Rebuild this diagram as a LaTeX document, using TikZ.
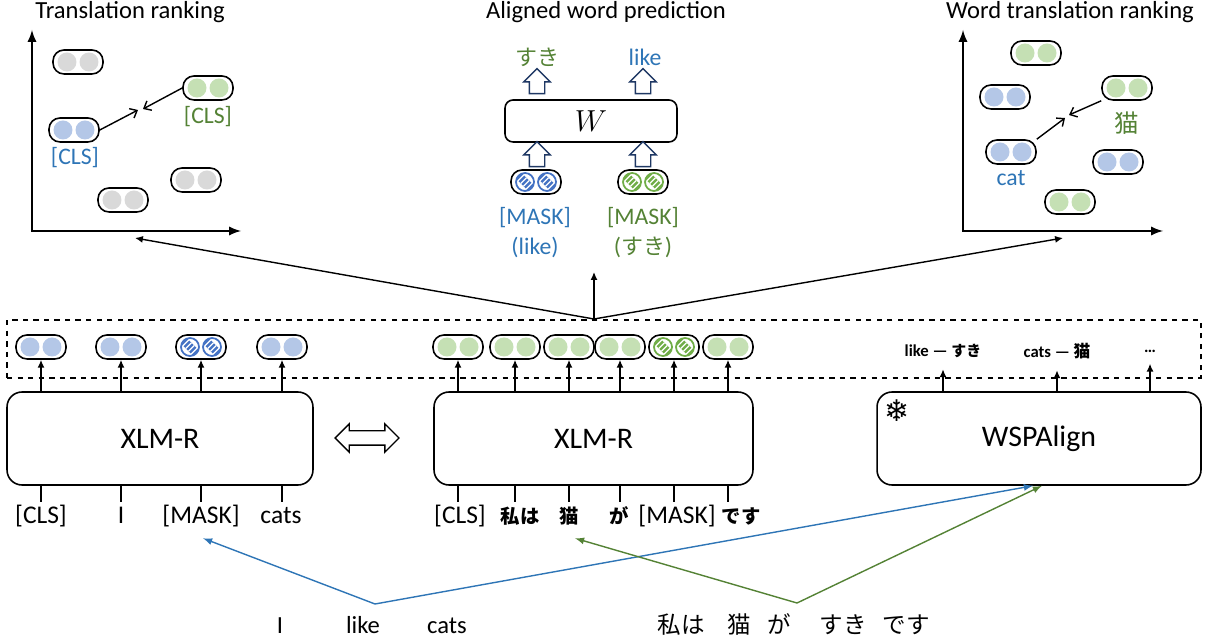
\documentclass[tikz,border=0pt]{standalone}
\usepackage{fontspec}
\setmainfont{Carlito}
\newfontfamily\jpfont{Noto Sans CJK JP}
\newfontfamily\symfont{DejaVu Sans}
\usetikzlibrary{arrows, arrows.meta, shapes.arrows, calc}

\definecolor{pillBlue}{HTML}{B4C7E7}
\definecolor{pillGreen}{HTML}{C5E0B4}
\definecolor{pillGray}{HTML}{D9D9D9}
\definecolor{hatchBlue}{HTML}{4472C4}
\definecolor{hatchGreen}{HTML}{70AD47}
\definecolor{txtBlue}{HTML}{2E75B6}
\definecolor{txtGreen}{HTML}{548235}
\definecolor{arrowNavy}{HTML}{1F3864}

\tikzset{
  pill/.style={draw, line width=0.9pt, rounded corners=0.22cm, minimum width=1.0cm, minimum height=0.48cm, inner sep=0pt},
  model/.style={draw, line width=0.9pt, rounded corners=0.3cm, inner sep=0pt, font=\fontsize{17}{20}\selectfont},
  hollowup/.style={single arrow, draw=arrowNavy, line width=0.8pt, rotate=90, minimum height=0.5cm, minimum width=0.5cm, single arrow head extend=0.11cm, inner xsep=0pt, inner ysep=0.14cm},
  token/.style={font=\fontsize{14.5}{17}\selectfont, text height=10pt, text depth=3pt, inner sep=2pt},
  jptoken/.style={token, font=\jpfont\bfseries\fontsize{11}{13}\selectfont},
  title/.style={font=\fontsize{14}{17}\selectfont},
  plabel/.style={font=\fontsize{13.5}{17}\selectfont},
  pairtxt/.style={font=\bfseries\fontsize{9.5}{11}\selectfont},
  wire/.style={line width=0.8pt, -{Latex[length=4.5pt, width=4pt]}},
  pointer/.style={line width=0.8pt, -{Straight Barb[length=3.5pt, width=6pt]}},
}

%% output embedding: a pill with two dots
\newcommand{\embpill}[3]{%
  \node[pill] (#1) at (#2) {};
  \fill[#3] ($(#1)+(-11,0)$) circle (0.19cm);
  \fill[#3] ($(#1)+(11,0)$) circle (0.19cm);
}

%% masked embedding: striped dots
\newcommand{\maskpill}[3]{%
  \node[pill] (#1) at (#2) {};
  \foreach \dx in {-11,11}{
    \begin{scope}
      \clip ($(#1)+(\dx,0)$) circle (0.18cm);
      \draw[#3, line width=4.5pt] ($(#1)+(\dx-10,-10)$) -- ($(#1)+(\dx+10,10)$);
      \draw[white, line width=4.5pt, dash pattern=on 0.7pt off 1.5pt] ($(#1)+(\dx-10,-10)$) -- ($(#1)+(\dx+10,10)$);
    \end{scope}
    \draw[#3, line width=1pt] ($(#1)+(\dx,0)$) circle (0.18cm);
  }
}

\begin{document}
\begin{tikzpicture}[x=0.02cm, y=-0.02cm]

%%Parameters
\def\embY{347}
\def\tokY{517}
\def\sentY{627}

\useasboundingbox (0,0) rectangle (1210,644);

    %% ***Translation ranking***
    \node[title] (tTrans) at (130,12) {Translation ranking};
    \draw[line width=1.3pt, latex-latex] (32,30) |- (241,231);

    \embpill{trG1}{78,62}{pillGray}
    \embpill{trCn}{208,88}{pillGreen}
    \embpill{trCe}{74,130}{pillBlue}
    \embpill{trG2}{196,180}{pillGray}
    \embpill{trG3}{123,200}{pillGray}
    \node[plabel, text=txtGreen] (trCnL) at (208,117) {[CLS]};
    \node[plabel, text=txtBlue] (trCeL) at (75,158) {[CLS]};

    \coordinate (trMeetA) at (138,110);
    \coordinate (trMeetB) at (143,109);
    \draw[pointer] (trCe.east) -- (trMeetA);
    \draw[pointer] (trCn.west) -- (trMeetB);


    %% ***Aligned word prediction***
    \node[title] (tAlign) at (606,12) {Aligned word prediction};
    \node[draw, line width=0.9pt, rounded corners=0.16cm, minimum width=3.44cm, minimum height=0.84cm, font=\fontsize{16}{18}\selectfont] (wMat) at (591,121) {$W$};

    \node[hollowup] (upA1) at (537,85) {};
    \node[hollowup] (upB1) at (643,85) {};
    \node[hollowup] (upA2) at (537,158) {};
    \node[hollowup] (upB2) at (643,158) {};

    \node[plabel, text=txtGreen, font=\jpfont\fontsize{12.5}{15}\selectfont] (predJa) at (537,57) {すき};
    \node[plabel, text=txtBlue] (predEn) at (645,57) {like};

    \maskpill{mkEn}{536,182}{hatchBlue}
    \maskpill{mkJa}{643,182}{hatchGreen}
    \node[plabel, text=txtBlue, align=center] (mkEnL) at (535,233) {[MASK]\\(like)};
    \node[plabel, text=txtGreen, align=center] (mkJaL) at (643,233) {[MASK]\\({\jpfont\fontsize{12.5}{15}\selectfont すき})};


    %% ***Word translation ranking***
    \node[title] (tWord) at (1070,12) {Word translation ranking};
    \draw[line width=1.3pt, latex-latex] (963,30) |- (1163,231);

    \embpill{wrG1}{1036,53}{pillGreen}
    \embpill{wrB1}{1005,97}{pillBlue}
    \embpill{wrNeko}{1127,88}{pillGreen}
    \embpill{wrCat}{1011,152}{pillBlue}
    \embpill{wrB2}{1118,162}{pillBlue}
    \embpill{wrG2}{1070,202}{pillGreen}
    \node[plabel, text=txtGreen, font=\jpfont\fontsize{14}{16}\selectfont] (wrNekoL) at (1127,123) {猫};
    \node[plabel, text=txtBlue] (wrCatL) at (1011,178) {cat};

    \coordinate (wrMeetA) at (1065,118);
    \coordinate (wrMeetB) at (1069,115);
    \draw[pointer] (wrCat.north east) -- (wrMeetA);
    \draw[pointer] (wrNeko.south west) -- (wrMeetB);


    %% output row
    \node[draw, dashed, line width=0.8pt, minimum width=23.88cm, minimum height=1.16cm, inner sep=0pt] (outRow) at (604,349) {};
    \coordinate (fork) at (594,319);
    \coordinate (trEnd) at (135,238);
    \coordinate (alEnd) at (594,272);
    \coordinate (wrEnd) at (1063,238);
    \draw[wire] (fork) -- (trEnd);
    \draw[wire] (fork) -- (alEnd);
    \draw[wire] (fork) -- (wrEnd);

    \embpill{oL1}{41,\embY}{pillBlue}
    \embpill{oL2}{121,\embY}{pillBlue}
    \maskpill{oL3}{201,\embY}{hatchBlue}
    \embpill{oL4}{282,\embY}{pillBlue}

    \embpill{oM1}{458,\embY}{pillGreen}
    \embpill{oM2}{515,\embY}{pillGreen}
    \embpill{oM3}{569,\embY}{pillGreen}
    \embpill{oM4}{620,\embY}{pillGreen}
    \maskpill{oM5}{674,\embY}{hatchGreen}
    \embpill{oM6}{728,\embY}{pillGreen}

    \node[pairtxt] (pr1) at (943,351) {like — {\jpfont\fontsize{8.5}{10}\selectfont すき}};
    \node[pairtxt] (pr2) at (1057,351) {cats — {\jpfont\fontsize{9.5}{11}\selectfont 猫}};
    \node[pairtxt] (pr3) at (1150,351) {…};


    %% encoders
    \node[model, minimum width=6.12cm, minimum height=1.86cm] (xlmrEn) at (160,438.5) {XLM-R};
    \node[model, minimum width=6.38cm, minimum height=1.86cm] (xlmrJa) at (593.5,438.5) {XLM-R};
    \node[model, minimum width=6.48cm, minimum height=1.86cm] (wsp) at (1039,438.5) {WSPAlign};
    \node[font=\symfont\fontsize{17}{17}\selectfont] (frozen) at (897,411) {❄};

    \node[double arrow, draw, line width=0.8pt, minimum height=1.28cm, minimum width=0.54cm, double arrow head extend=0.14cm, inner xsep=0pt, inner ysep=0.13cm] (swap) at (367,438) {};

    \foreach \o in {oL1, oL2, oL3, oL4}
        \draw[wire] (xlmrEn.north -| \o) -- (\o.south);
    \foreach \o in {oM1, oM2, oM3, oM4, oM5, oM6}
        \draw[wire] (xlmrJa.north -| \o) -- (\o.south);
    \foreach \o in {pr1, pr2, pr3}
        \draw[wire, shorten >=3pt] (wsp.north -| \o) -- (\o.south);


    %% input tokens
    \node[token] (tkL1) at (41,\tokY) {[CLS]};
    \node[token] (tkL2) at (121,\tokY) {I};
    \node[token] (tkL3) at (201,\tokY) {[MASK]};
    \node[token] (tkL4) at (281,\tokY) {cats};

    \node[token] (tkM1) at (460,\tokY) {[CLS]};
    \node[jptoken] (tkM2) at (520,\tokY) {私は};
    \node[jptoken] (tkM3) at (569,\tokY) {猫};
    \node[jptoken] (tkM4) at (619,\tokY) {が};
    \node[token] (tkM5) at (677,\tokY) {[MASK]};
    \node[jptoken] (tkM6) at (741,\tokY) {です};

    \draw[line width=0.8pt] (xlmrEn.south -| oL1) -- (tkL1.north -| oL1);
    \draw[line width=0.8pt] (xlmrEn.south -| oL2) -- (tkL2.north -| oL2);
    \draw[line width=0.8pt] (xlmrEn.south -| oL3) -- (tkL3.north -| oL3);
    \draw[line width=0.8pt] (xlmrEn.south -| oL4) -- (tkL4.north -| oL4);
    \draw[line width=0.8pt] (xlmrJa.south -| oM1) -- (tkM1.north -| oM1);
    \draw[line width=0.8pt] (xlmrJa.south -| oM2) -- (tkM2.north -| oM2);
    \draw[line width=0.8pt] (xlmrJa.south -| oM3) -- (tkM3.north -| oM3);
    \draw[line width=0.8pt] (xlmrJa.south -| oM4) -- (tkM4.north -| oM4);
    \draw[line width=0.8pt] (xlmrJa.south -| oM5) -- (tkM5.north -| oM5);
    \draw[line width=0.8pt] (xlmrJa.south -| oM6) -- (tkM6.north -| oM6);


    %% parallel sentence pair
    \node[token, font=\fontsize{14}{17}\selectfont] (snI) at (280,\sentY) {I};
    \node[token, font=\fontsize{14}{17}\selectfont] (snLike) at (363,\sentY) {like};
    \node[token, font=\fontsize{14}{17}\selectfont] (snCats) at (447,\sentY) {cats};

    \node[token, font=\jpfont\fontsize{13.4}{16}\selectfont] (snWatashi) at (681,\sentY) {私は};
    \node[token, font=\jpfont\fontsize{13.4}{16}\selectfont] (snNeko) at (739,\sentY) {猫};
    \node[token, font=\jpfont\fontsize{13.4}{16}\selectfont] (snGa) at (779,\sentY) {が};
    \node[token, font=\jpfont\fontsize{13.4}{16}\selectfont] (snSuki) at (843,\sentY) {すき};
    \node[token, font=\jpfont\fontsize{13.4}{16}\selectfont] (snDesu) at (906,\sentY) {です};

    \coordinate (blueV) at (375,604);
    \coordinate (greenV) at (797,603);
    \draw[txtBlue, line width=0.8pt, latex-latex] ([xshift=0.04cm, yshift=-0.12cm]tkL3.south) -- (blueV) -- ([xshift=-0.12cm]wsp.south);
    \draw[txtGreen, line width=0.8pt, latex-latex] ([xshift=0.12cm, yshift=-0.12cm]tkM3.south) -- (greenV) -- ([xshift=0.06cm]wsp.south);

\end{tikzpicture}
\end{document}
